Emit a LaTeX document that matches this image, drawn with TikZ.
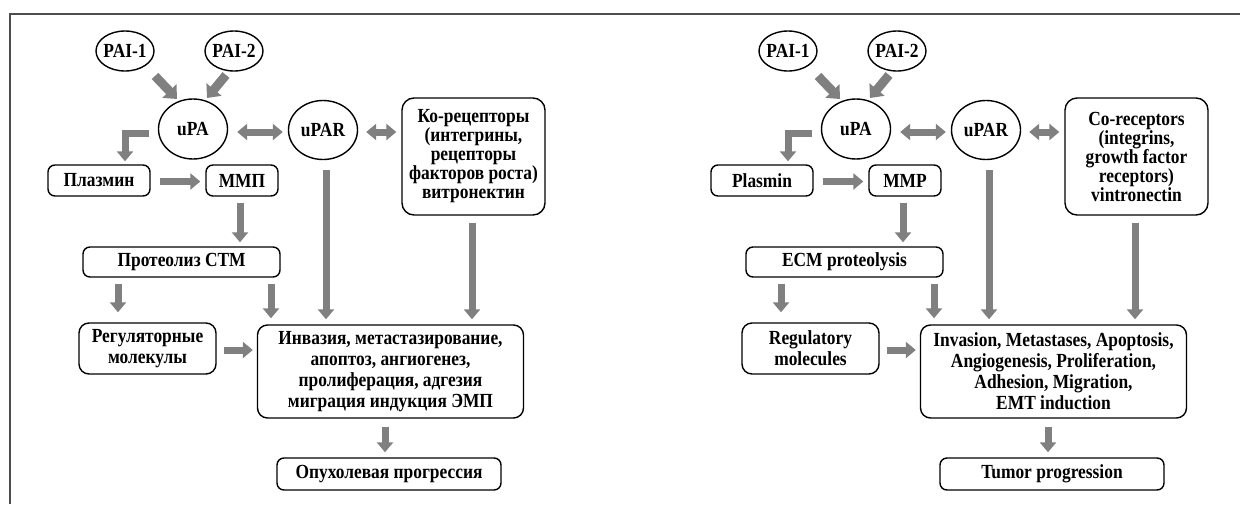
\documentclass[tikz,border=0pt]{standalone}
\usepackage{fontspec}
\setmainfont{Liberation Serif}[FakeStretch=0.87]
\usetikzlibrary{arrows.meta,shapes.geometric,calc}
\definecolor{arrowgray}{HTML}{808080}
\definecolor{framegray}{HTML}{4D4D4D}
\tikzset{
  txt/.style={font=\bfseries\fontsize{20}{21}\selectfont},
  ell/.style={ellipse, draw=black, line width=1.4pt, inner sep=0pt, txt},
  rbox/.style={rectangle, rounded corners=7pt, draw=black, line width=1.4pt, inner sep=0pt, align=center, txt},
  fat/.style={draw=arrowgray, line width=7pt, -{Triangle[length=10pt,width=16pt]}},
  fatter/.style={draw=arrowgray, line width=9pt, -{Triangle[length=11pt,width=19pt]}},
  fatboth/.style={draw=arrowgray, line width=7pt, {Triangle[length=10pt,width=16pt]}-{Triangle[length=10pt,width=16pt]}},
}
\newcommand\drawpanel[8]{%
\node[ell,minimum width=58pt,minimum height=40pt] (pai1#1) at (125,51) {\makebox[0pt]{PAI-1}};
\node[ell,minimum width=58pt,minimum height=40pt] (pai2#1) at (234,51) {\makebox[0pt]{PAI-2}};
\node[ell,minimum width=69pt,minimum height=60pt] (upa#1) at (193,129) {\makebox[0pt]{uPA}};
\node[ell,minimum width=69pt,minimum height=59pt] (upar#1) at (323,130) {\makebox[0pt]{uPAR}};
\node[rbox,rounded corners=12pt,minimum width=143pt,minimum height=117pt,font=\bfseries\fontsize{20}{19}\selectfont] (co#1) at (473.5,156.5) {#2};
\node[rbox,minimum width=102pt,minimum height=31pt] (plas#1) at (99,180.5) {#3};
\node[rbox,minimum width=72pt,minimum height=31pt] (mmp#1) at (242,180.5) {#4};
\node[rbox,minimum width=197pt,minimum height=30pt] (prot#1) at (181.5,262) {#5};
\node[rbox,rounded corners=10pt,minimum width=137pt,minimum height=51pt] (reg#1) at (147.5,348.5) {#6};
\node[rbox,rounded corners=10pt,minimum width=266pt,minimum height=93pt] (inv#1) at (390.5,371.5) {#7};
\node[rbox,minimum width=224pt,minimum height=32pt] (tum#1) at (389,474) {#8};
\draw[fatter] ($(pai1#1.center)+(30,25)$) -- ($(upa#1.center)+(-16,-30)$);
\draw[fatter] ($(pai2#1.center)+(-8,24)$) -- ($(upa#1.center)+(14,-31)$);
\draw[fatboth] ($(upa#1.east)+(9,3)$) -- ($(upar#1.west)+(-5,2)$);
\draw[fatboth] ($(upar#1.east)+(8,2)$) -- ($(co#1.west|-upar#1.east)+(-5,2)$);
\draw[fat,line join=miter] ($(upa#1.west)+(-9,4)$) -| ($(plas#1.north)+(26,-3)$);
\draw[fat] ($(plas#1.east)+(9,1)$) -- ($(mmp#1.west)+(-5,1)$);
\draw[fat] ($(mmp#1.south)+(-2,6)$) -- ($(prot#1.north)+(58.5,-4)$);
\draw[fat] ($(prot#1.south)+(-63.5,6)$) -- ($(reg#1.north)+(-29.5,-10)$);
\draw[fat] ($(prot#1.south)+(89.5,6)$) -- ($(inv#1.north)+(-119.5,-6)$);
\draw[fat] ($(upar#1.south)+(3,10)$) -- ($(inv#1.north)+(-64.5,-5)$);
\draw[fat] ($(co#1.south)+(-1.5,7)$) -- ($(inv#1.north)+(81.5,-5)$);
\draw[fat] ($(reg#1.east)+(7,1.5)$) -- ($(inv#1.west)+(-4,-21.5)$);
\draw[fat] ($(inv#1.south)+(-5.5,8)$) -- ($(tum#1.north)+(-4,-5)$);
}
\begin{document}
\begin{tikzpicture}[x=1pt,y=-1pt]
\useasboundingbox[fill=white] (0,0) rectangle (1240,504);
\draw[framegray,line width=1.5pt] (10,504) -- (10,14) -- (1240,14);
\drawpanel{L}{Ко-рецепторы\\(интегрины,\\рецепторы\\факторов роста)\\витронектин}{Плазмин}{ММП}{Протеолиз СТМ}{Регуляторные\\молекулы}{Инвазия, метастазирование,\\апоптоз, ангиогенез,\\пролиферация, адгезия\\миграция индукция ЭМП}{Опухолевая прогрессия}
\begin{scope}[xshift=663pt]
\drawpanel{R}{Co-receptors\\(integrins,\\growth factor\\receptors)\\vintronectin}{Plasmin}{MMP}{ECM proteolysis}{Regulatory\\molecules}{Invasion, Metastases, Apoptosis,\\Angiogenesis, Proliferation,\\Adhesion, Migration,\\EMT induction}{Tumor progression}
\end{scope}
\end{tikzpicture}
\end{document}
